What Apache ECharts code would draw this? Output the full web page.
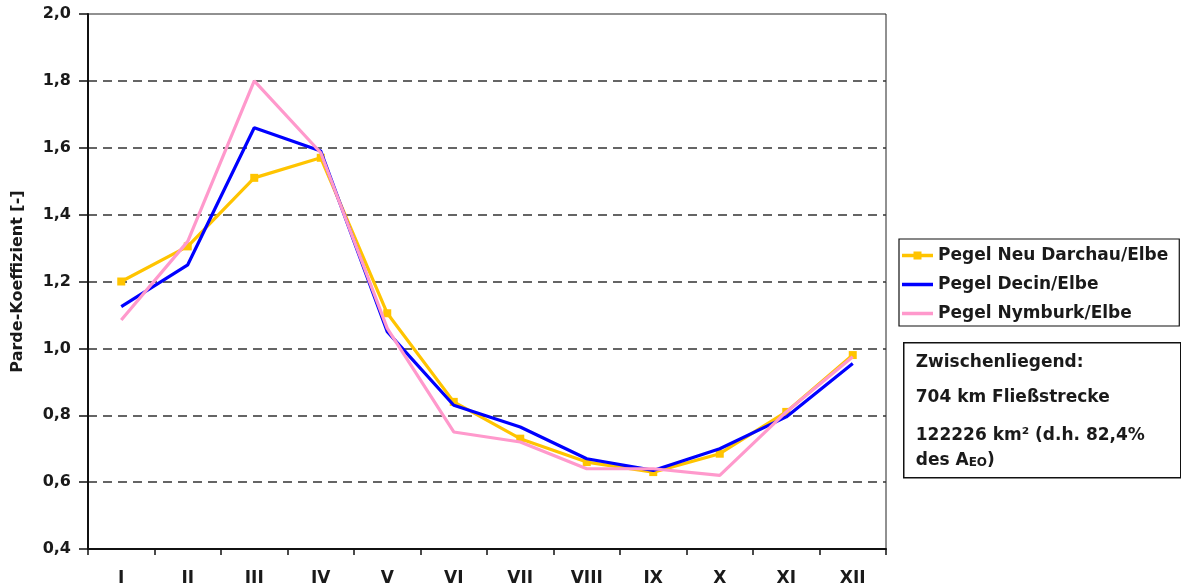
<!DOCTYPE html>
<html>
<head>
<meta charset="utf-8">
<title>Parde-Koeffizient Elbe</title>
<script src="https://cdn.jsdelivr.net/npm/echarts@6/dist/echarts.min.js"></script>
<style>
  html, body { margin: 0; padding: 0; background: #fff; }
  #chart { width: 1181px; height: 587px; }
</style>
</head>
<body>
<div id="chart"></div>
<script>
(function() {
  'use strict';

  // === Data ===
  var months = ['I', 'II', 'III', 'IV', 'V', 'VI', 'VII', 'VIII', 'IX', 'X', 'XI', 'XII'];
  var neuDarchau = [1.20, 1.305, 1.51, 1.57, 1.105, 0.84, 0.73, 0.66, 0.63, 0.685, 0.81, 0.98];
  var decin      = [1.125, 1.25, 1.66, 1.59, 1.05, 0.83, 0.765, 0.67, 0.635, 0.70, 0.795, 0.955];
  var nymburk    = [1.085, 1.32, 1.80, 1.585, 1.06, 0.75, 0.72, 0.64, 0.64, 0.62, 0.81, 0.975];
  var seriesNames = ['Pegel Neu Darchau/Elbe', 'Pegel Decin/Elbe', 'Pegel Nymburk/Elbe'];

  // === Layout / style constants ===
  var FONT = '"DejaVu Sans", Verdana, sans-serif';
  var TEXT = '#1a1a1a';
  var GRID = { left: 88, right: 295, top: 14, bottom: 38 };

  // legend icons: a thick line, the first one with a square marker in the middle
  // (the tiny dots in the corners only fix the icon's bounding box to 31x9)
  var BOUNDS = 'M0,0h0.05v0.05h-0.05z M30.95,8.95h0.05v0.05h-0.05z ';
  var ICON_MARKER = 'path://' + BOUNDS + 'M0,2.8h11.5v-2.3h8v2.3h11.5v3.4h-11.5v2.3h-8v-2.3h-11.5z';
  var ICON_LINE = 'path://' + BOUNDS + 'M0,2.8h31v3.4h-31z';

  var chart = echarts.init(document.getElementById('chart'), null, { renderer: 'canvas' });

  function comma(v) {
    return v.toFixed(1).replace('.', ',');
  }

  var boldText = function(size) {
    return { fontFamily: FONT, fontWeight: 'bold', fontSize: size, color: TEXT };
  };

  // --- one line of the info box ---
  function infoLine(y, text) {
    return {
      type: 'text',
      x: 12,
      y: y,
      style: {
        text: text,
        font: 'bold 17px ' + FONT,
        fill: TEXT,
        verticalAlign: 'middle'
      }
    };
  }

  var option = {
    animation: false,
    backgroundColor: '#fff',
    grid: {
      left: GRID.left,
      right: GRID.right,
      top: GRID.top,
      bottom: GRID.bottom,
      show: true,
      borderColor: '#222',
      borderWidth: 1
    },
    legend: {
      orient: 'vertical',
      left: 899,
      top: 239,
      padding: [7, 11, 3, 3],
      itemGap: 10,
      itemWidth: 31,
      itemHeight: 9,
      borderColor: '#111',
      borderWidth: 1.2,
      textStyle: Object.assign(boldText(17), { lineHeight: 19 }),
      data: [
        { name: seriesNames[0], icon: ICON_MARKER },
        { name: seriesNames[1], icon: ICON_LINE },
        { name: seriesNames[2], icon: ICON_LINE }
      ]
    },
    xAxis: {
      type: 'category',
      data: months,
      boundaryGap: true,
      axisLine: { lineStyle: { color: '#111', width: 2 } },
      axisTick: { show: true, length: 6, alignWithLabel: false, lineStyle: { color: '#111', width: 1.5 } },
      axisLabel: Object.assign(boldText(17), { margin: 21 }),
      splitLine: { show: false }
    },
    yAxis: {
      type: 'value',
      min: 0.4,
      max: 2.0,
      interval: 0.2,
      name: 'Parde-Koeffizient [-]',
      nameLocation: 'middle',
      nameGap: 62,
      nameTextStyle: boldText(16),
      axisLine: { show: true, lineStyle: { color: '#111', width: 2 } },
      axisTick: { show: true, length: 9, lineStyle: { color: '#111', width: 1.5 } },
      axisLabel: Object.assign(boldText(16), { margin: 17, formatter: comma }),
      splitLine: {
        show: true,
        showMinLine: false,
        showMaxLine: false,
        lineStyle: { color: '#333', width: 1.6, type: [9, 6] }
      }
    },
    series: [{
      name: seriesNames[0],
      type: 'line',
      data: neuDarchau,
      symbol: 'rect',
      symbolSize: 8,
      showAllSymbol: true,
      lineStyle: { color: '#FFC400', width: 3.2 },
      itemStyle: { color: '#FFC400' },
      z: 2
    }, {
      name: seriesNames[1],
      type: 'line',
      data: decin,
      symbol: 'none',
      lineStyle: { color: '#0000FF', width: 3.2 },
      itemStyle: { color: '#0000FF' },
      z: 3
    }, {
      name: seriesNames[2],
      type: 'line',
      data: nymburk,
      symbol: 'none',
      lineStyle: { color: '#FF99CC', width: 3.2 },
      itemStyle: { color: '#FF99CC' },
      z: 4
    }],
    graphic: [{
      // info box below the legend
      type: 'group',
      left: 903,
      top: 342,
      children: [{
        type: 'rect',
        shape: { x: 0, y: 0, width: 277, height: 135 },
        style: { fill: '#fff', stroke: '#111', lineWidth: 1.5 }
      },
      infoLine(20, 'Zwischenliegend:'),
      infoLine(55, '704 km Fließstrecke'),
      infoLine(93, '122226 km² (d.h. 82,4%'),
      {
        type: 'text',
        x: 12,
        y: 118,
        style: {
          text: '{n|des A}{s|EO}{n|)}',
          fill: TEXT,
          verticalAlign: 'middle',
          rich: {
            n: boldText(17),
            s: Object.assign(boldText(12), { padding: [4, 0, 0, 0] })
          }
        }
      }]
    }]
  };

  chart.setOption(option);
})();
</script>
</body>
</html>
